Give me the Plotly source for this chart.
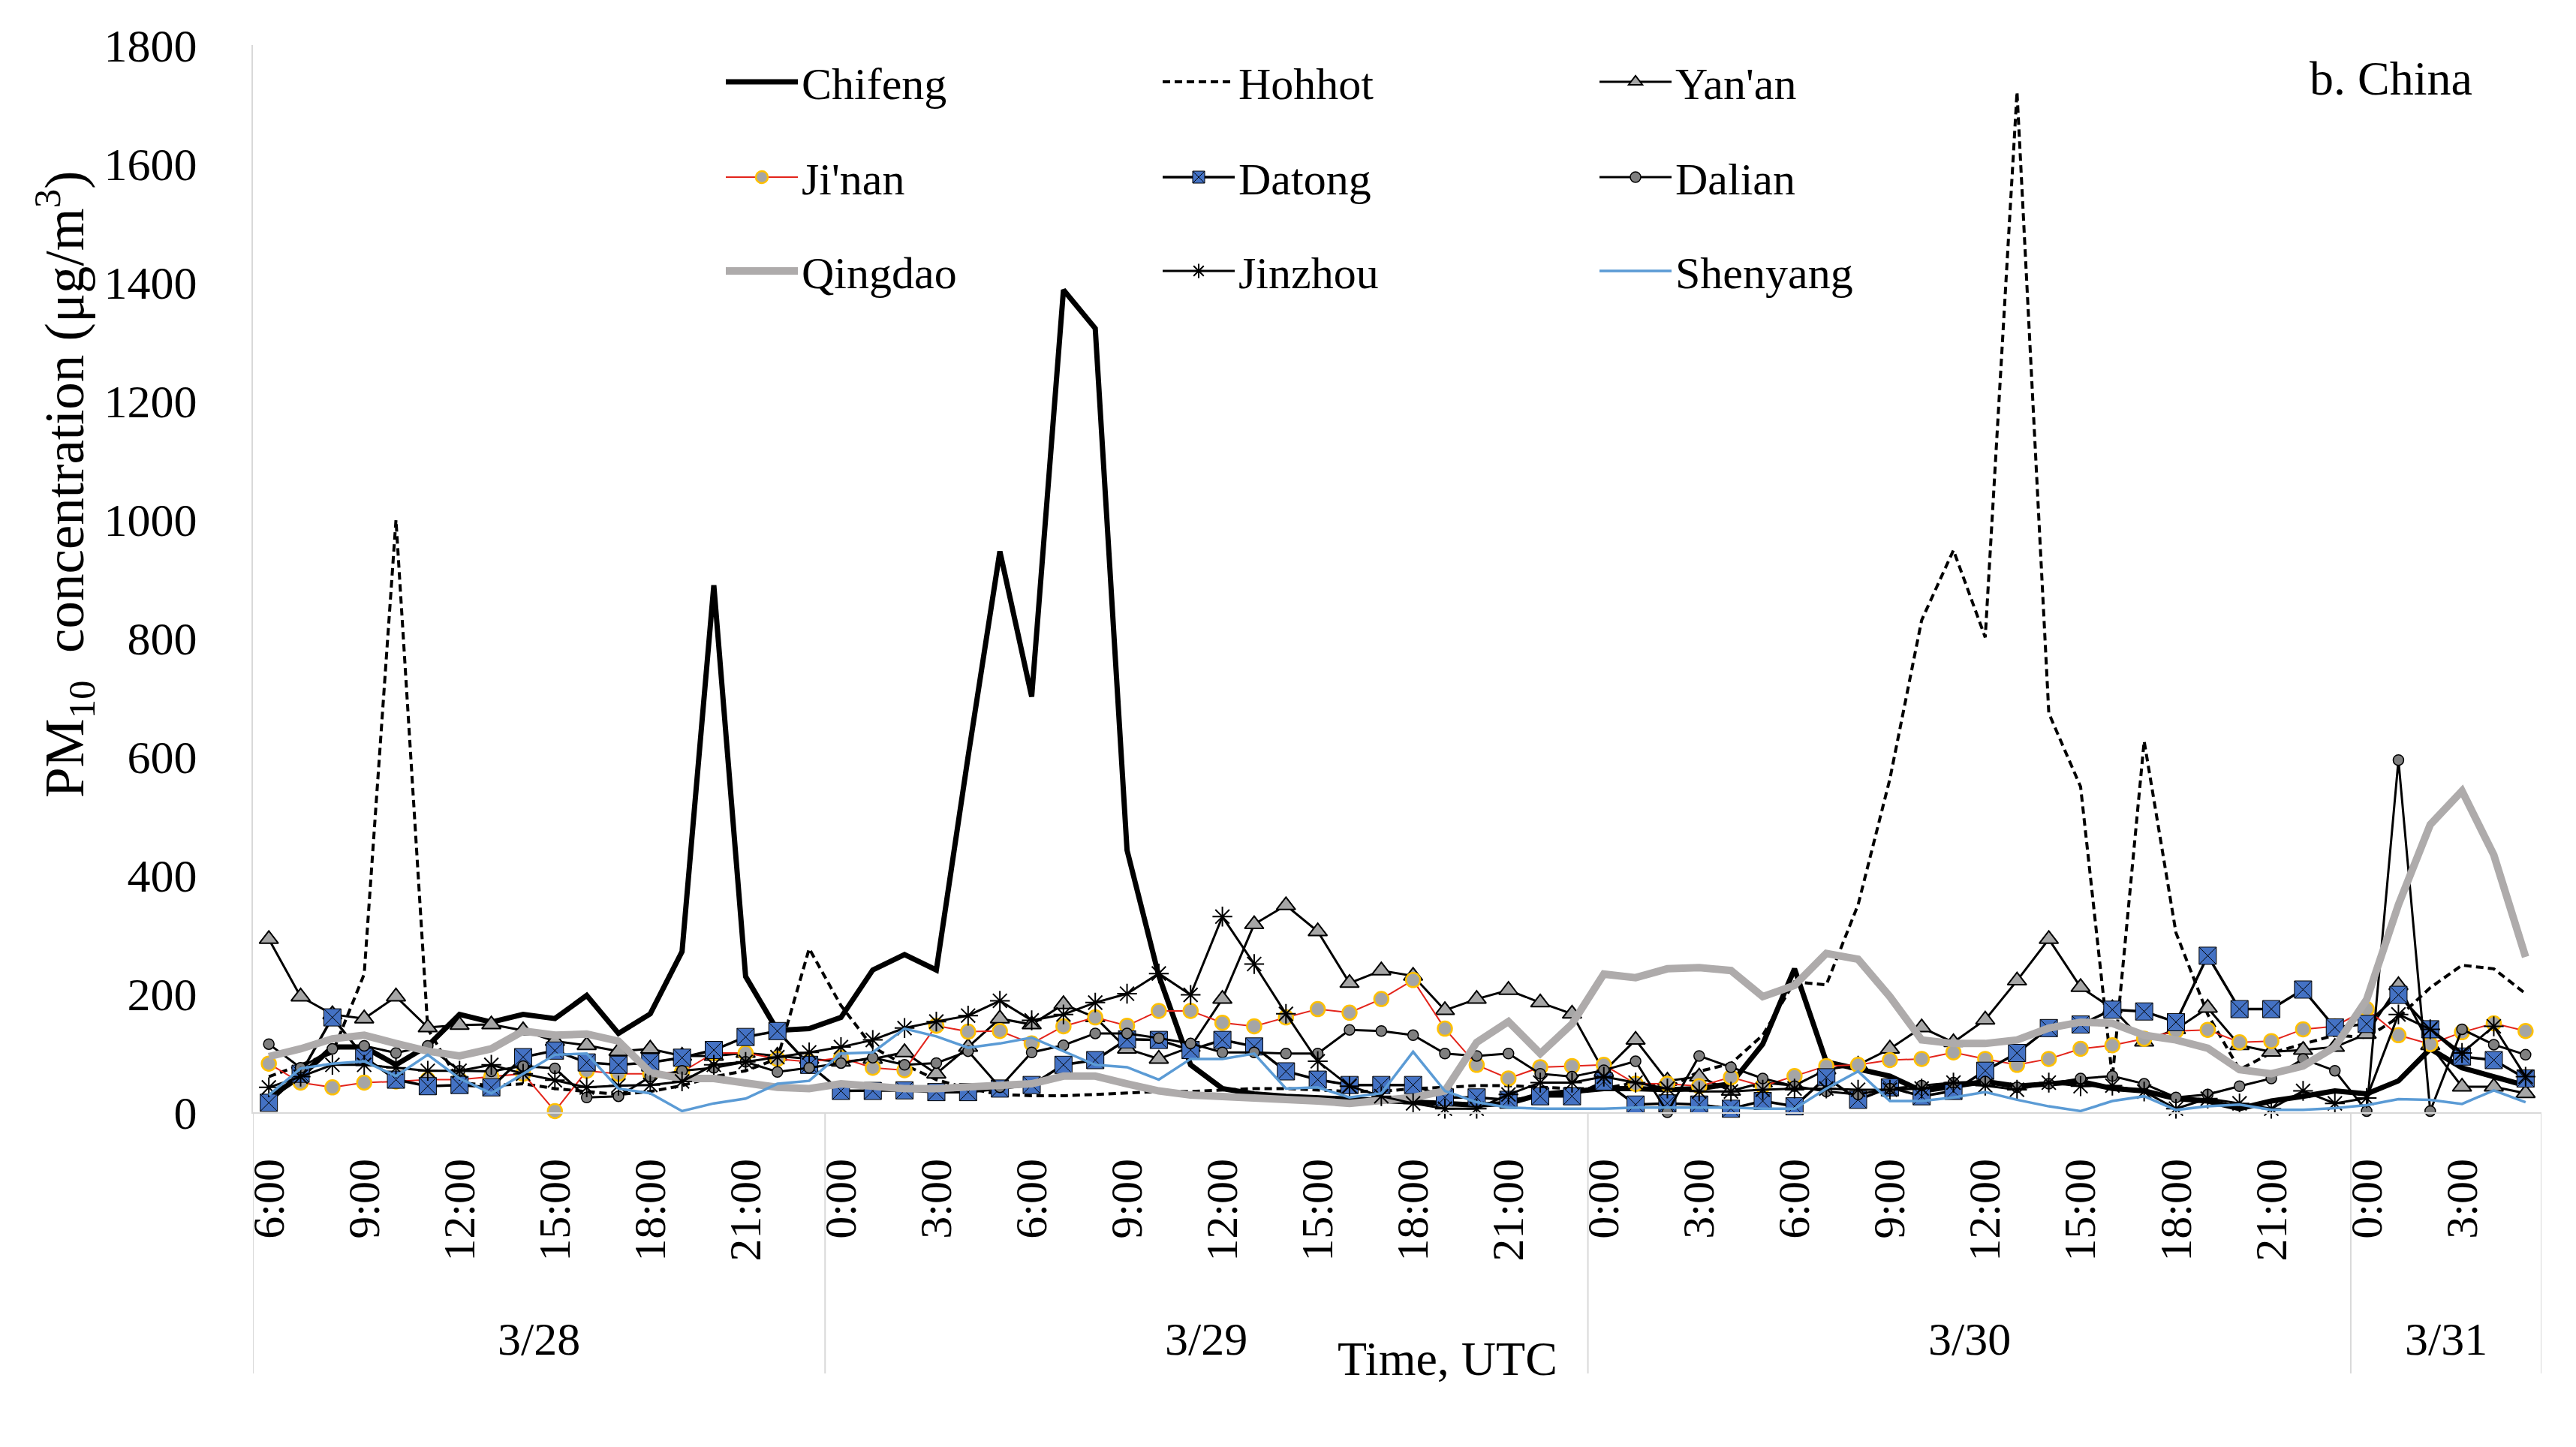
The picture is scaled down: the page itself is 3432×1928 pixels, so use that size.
import plotly.graph_objects as go

# ---------------- data ----------------
days = ["3/28", "3/29", "3/30", "3/31"]
day_hours = [list(range(6, 24)), list(range(24)), list(range(24)), list(range(6))]
times = [f"{d} {h}:00" for d, hrs in zip(days, day_hours) for h in hrs]
hour_text = [f"{h}:00" for hrs in day_hours for h in hrs]

chifeng = [25, 60, 110, 110, 80, 112, 165, 152, 165, 158, 197, 133, 166, 271, 889, 229, 138, 141,
           160, 240, 266, 240, 600, 946, 701, 1387, 1322, 442, 230, 80, 40, 31, 27, 25, 23, 20, 18, 15, 12, 15, 30, 35,
           40, 40, 38, 40, 48, 115, 242, 85, 72, 61, 36, 45, 52, 44, 48, 52, 40, 36, 23, 19, 6, 19, 27, 36,
           31, 53, 107, 75, 60, 45]
hohhot = [60, 80, 100, 233, 999, 141, 50, 45, 48, 40, 35, 30, 35, 45, 60, 70, 90, 276,
          180, 110, 80, 55, 40, 30, 28, 28, 30, 32, 35, 35, 38, 40, 40, 38, 35, 35, 40, 42, 45, 45, 42, 40,
          40, 50, 40, 69, 82, 130, 220, 215, 350, 562, 830, 948, 801, 1721, 673, 549, 58, 626, 303, 165, 72, 100, 115, 130,
          126, 160, 210, 248, 242, 200]
yanan = [292, 195, 165, 158, 195, 143, 147, 148, 138, 120, 113, 103, 107, 95, 95, 100, 95, 90,
         85, 90, 101, 65, 110, 158, 148, 182, 160, 107, 90, 110, 191, 317, 349, 305, 218, 239, 230, 172, 191, 206, 185, 166,
         69, 122, 53, 60, 36, 50, 45, 72, 80, 107, 143, 118, 156, 222, 292, 211, 175, 119, 140, 176, 113, 102, 105, 110,
         132, 214, 113, 43, 43, 32]
jinan = [82, 50, 42, 50, 52, 55, 55, 60, 65, 2, 70, 65, 65, 68, 100, 100, 90, 85,
         92, 75, 71, 146, 136, 137, 116, 145, 160, 146, 171, 171, 151, 145, 160, 174, 168, 191, 223, 141, 80, 57, 76, 78,
         80, 48, 48, 44, 59, 44, 61, 78, 80, 88, 90, 101, 90, 80, 90, 107, 113, 124, 137, 139, 118, 120, 140, 145,
         174, 130, 115, 135, 150, 137]
datong = [16, 65, 160, 93, 55, 44, 46, 42, 93, 104, 84, 80, 84, 92, 105, 127, 137, 80,
          36, 36, 37, 34, 34, 40, 46, 80, 88, 123, 122, 105, 122, 111, 69, 55, 46, 46, 46, 25, 25, 21, 27, 27,
          52, 13, 15, 13, 6, 19, 10, 59, 21, 42, 27, 36, 70, 100, 142, 148, 173, 170, 152, 264, 174, 174, 207, 143,
          149, 198, 140, 94, 88, 57]
dalian = [115, 75, 107, 112, 100, 112, 70, 69, 78, 74, 25, 27, 60, 70, 75, 85, 68, 75,
          83, 92, 80, 83, 103, 42, 101, 113, 133, 133, 125, 116, 101, 101, 99, 99, 139, 137, 130, 99, 95, 99, 65, 60,
          71, 86, 0, 95, 76, 57, 44, 35, 30, 40, 45, 50, 52, 42, 48, 57, 61, 48, 25, 30, 44, 57, 90, 70,
          2, 594, 2, 140, 114, 97]
qingdao = [94, 107, 124, 130, 116, 103, 95, 107, 137, 130, 132, 120, 67, 57, 57, 48, 42, 40,
           48, 44, 40, 40, 42, 44, 48, 61, 61, 48, 36, 29, 27, 23, 23, 19, 15, 19, 25, 36, 118, 153, 99, 149,
           233, 227, 242, 244, 239, 195, 214, 268, 258, 195, 122, 116, 116, 122, 142, 152, 150, 130, 122, 108, 72, 65, 78, 110,
           190, 350, 485, 542, 434, 262]
jinzhou = [42, 60, 80, 80, 75, 70, 70, 80, 65, 54, 42, 45, 46, 52, 80, 85, 93, 101,
           110, 122, 142, 153, 163, 188, 155, 165, 185, 200, 234, 198, 330, 250, 166, 86, 44, 27, 15, 6, 6, 30, 50, 50,
           60, 50, 40, 35, 35, 38, 40, 40, 38, 38, 40, 50, 45, 38, 50, 44, 45, 35, 6, 23, 15, 6, 36, 15,
           24, 165, 140, 100, 145, 60]
shenyang = [29, 74, 82, 86, 61, 97, 57, 32, 65, 97, 99, 40, 32, 2, 15, 23, 48, 53,
            99, 101, 141, 128, 109, 116, 126, 103, 80, 76, 55, 90, 90, 99, 40, 42, 25, 32, 102, 36, 17, 8, 6, 6,
            6, 8, 8, 8, 8, 6, 6, 40, 69, 19, 19, 25, 34, 21, 10, 2, 19, 27, 4, 10, 13, 4, 4, 7,
            12, 22, 21, 14, 37, 17]

y_ticks = [0, 200, 400, 600, 800, 1000, 1200, 1400, 1600, 1800]

FONT = "Liberation Serif"

# ---------------- traces ----------------
fig = go.Figure()

def add(name, y, legend, mode="lines", line=None, marker=None):
    fig.add_trace(go.Scatter(x=times, y=y, name=name, mode=mode, line=line,
                             marker=marker, legend=legend, cliponaxis=False))

add("Chifeng", chifeng, "legend", line=dict(color="black", width=7))
add("Hohhot", hohhot, "legend", line=dict(color="black", width=4, dash="10px,6px"))
add("Yan'an", yanan, "legend", mode="lines+markers", line=dict(color="black", width=3),
    marker=dict(symbol="triangle-up", size=22, color="#a6a6a6", line=dict(color="black", width=2)))
add("Ji'nan", jinan, "legend2", mode="lines+markers", line=dict(color="#e3241b", width=2),
    marker=dict(symbol="circle", size=19, color="#a5a5a5", line=dict(color="#ffc000", width=2.5)))
add("Datong", datong, "legend2", mode="lines+markers", line=dict(color="black", width=3.5),
    marker=dict(symbol="square-x", size=23, color="#4472c4", line=dict(color="black", width=1)))
add("Dalian", dalian, "legend2", mode="lines+markers", line=dict(color="black", width=3),
    marker=dict(symbol="circle", size=14, color="#7f7f7f", line=dict(color="black", width=1.5)))
add("Qingdao", qingdao, "legend3", line=dict(color="#aeabab", width=10))
add("Jinzhou", jinzhou, "legend3", mode="lines+markers", line=dict(color="black", width=3),
    marker=dict(symbol="asterisk", size=22, color="black", line=dict(color="black", width=2)))
add("Shenyang", shenyang, "legend3", line=dict(color="#5b9bd5", width=3.5))

# ---------------- layout ----------------
W, H = 3432, 1928
L, R, T, B = 337, 46, 60, 446
pw, ph = W - L - R, H - T - B

def px_x(px):
    return (px - L) / pw

def px_y(py):
    return (H - B - py) / ph

legend_common = dict(orientation="h", xanchor="left", yanchor="middle",
                     itemwidth=96, entrywidth=471, entrywidthmode="pixels",
                     bgcolor="rgba(0,0,0,0)", font=dict(family=FONT, size=60, color="black"))

fig.update_layout(
    width=W, height=H,
    margin=dict(l=L, r=R, t=T, b=B),
    paper_bgcolor="white", plot_bgcolor="white",
    font=dict(family=FONT, size=60, color="black"),
    legend=dict(x=px_x(962), y=px_y(109), **legend_common),
    legend2=dict(x=px_x(962), y=px_y(236), **legend_common),
    legend3=dict(x=px_x(962), y=px_y(361), **legend_common),
)

fig.update_xaxes(
    type="category", categoryorder="array", categoryarray=times,
    range=[-0.5, len(times) - 0.5],
    tickmode="array", tickvals=times[::3], ticktext=hour_text[::3],
    tickangle=-90, tickfont=dict(family=FONT, size=60, color="black"),
    ticks="", ticklabelstandoff=36,
    showline=True, linecolor="#d9d9d9", linewidth=2,
    showgrid=False, zeroline=False,
)
fig.update_yaxes(
    range=[0, 1800], tickmode="array", tickvals=y_ticks,
    tickfont=dict(family=FONT, size=62, color="black"),
    ticks="", ticklabelstandoff=60,
    showline=True, linecolor="#d9d9d9", linewidth=2,
    showgrid=False, zeroline=False,
)

# day separators and day labels
bounds = [-0.5]
n = 0
for hrs in day_hours:
    n += len(hrs)
    bounds.append(n - 0.5)
for b in bounds:
    fig.add_shape(type="line", xref="x", yref="paper", x0=b, x1=b, y0=0, y1=px_y(1830),
                  line=dict(color="#d9d9d9", width=2))
for d, a, b in zip(days, bounds[:-1], bounds[1:]):
    fig.add_annotation(x=(a + b) / 2, y=px_y(1784), xref="x", yref="paper", text=d,
                       showarrow=False, xanchor="center", yanchor="middle",
                       font=dict(family=FONT, size=62, color="black"))

fig.add_annotation(x=px_x(1928), y=px_y(1810), xref="paper", yref="paper", text="Time, UTC",
                   showarrow=False, xanchor="center", yanchor="middle",
                   font=dict(family=FONT, size=64, color="black"))
fig.add_annotation(x=px_x(85), y=px_y(645), xref="paper", yref="paper",
                   text="PM<sub>10</sub>  concentration (μg/m<sup>3</sup>)", textangle=-90,
                   showarrow=False, xanchor="center", yanchor="middle",
                   font=dict(family=FONT, size=73, color="black"))
fig.add_annotation(x=px_x(3296), y=px_y(105), xref="paper", yref="paper", text="b. China",
                   showarrow=False, xanchor="right", yanchor="middle",
                   font=dict(family=FONT, size=64, color="black"))

fig.write_html("out.html", config={"displayModeBar": False},
               post_script="document.body.style.margin='0';")
